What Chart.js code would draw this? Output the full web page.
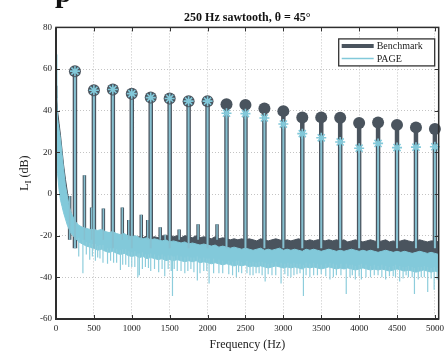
<!DOCTYPE html>
<html><head><meta charset="utf-8">
<script src="https://cdn.jsdelivr.net/npm/chart.js@4.4.1/dist/chart.umd.min.js"></script>
<style>html,body{margin:0;padding:0;background:#fff;}</style>
</head><body>
<canvas id="c" width="448" height="352"></canvas>
<script>
// ---------- data ----------
const chartTitle = '250 Hz sawtooth, θ = 45°';
const seriesNames = ['Benchmark', 'PAGE'];
const xTickLabels = [0,500,1000,1500,2000,2500,3000,3500,4000,4500,5000];
const yTickLabels = [-60,-40,-20,0,20,40,60,80];

const harmonicFreq = [250,500,750,1000,1250,1500,1750,2000,2250,2500,2750,3000,3250,3500,3750,4000,4250,4500,4750,5000];
const benchmarkLevel = [59,49.8,50.2,48.2,46.3,45.9,44.6,44.6,43.1,42.8,41.1,39.8,36.7,36.8,36.6,34.1,34.3,33.2,32,31.2];
const pageLevel = [59,49.8,50.2,48.2,46.3,45.9,44.6,44.6,38.8,38.6,36.5,33.6,29,27,25,22,24.3,22.3,22.5,22.7];

const spurFreq = [180,375,470,625,875,960,1125,1210,1375,1440,1625,1875,2125];
const spurLevel = [-1,9,-6.5,-7,-6.5,-12.5,-10,-12.5,-16,-19.5,-17,-14.5,-14.5];

const noiseFreq = [0,10,20,40,60,80,100,125,150,175,200,
 250,300,350,400,450,500,550,600,650,700,
 750,800,850,900,950,1000,1050,1100,1150,1200,
 1250,1300,1350,1400,1450,1500,1550,1600,1650,1700,
 1750,1800,1850,1900,1950,2000,2050,2100,2150,2200,
 2250,2300,2350,2400,2450,2500,2550,2600,2650,2700,
 2750,2800,2850,2900,2950,3000,3050,3100,3150,3200,
 3250,3300,3350,3400,3450,3500,3550,3600,3650,3700,
 3750,3800,3850,3900,3950,4000,4050,4100,4150,4200,
 4250,4300,4350,4400,4450,4500,4550,4600,4650,4700,
 4750,4800,4850,4900,4950,5000,5050];
const benchmarkNoiseTop = [52,46,40,34,28,21,14,7,1,-5,-10,
 -16,-18,-19,-19.5,-19,-20,-19.5,-20,-20.5,-20,
 -20.5,-20,-21,-20.5,-21,-20.5,-21,-20.5,-21,-20,
 -21,-20.5,-21,-20,-20.5,-19.5,-20.5,-20,-21,-20,
 -20.5,-21,-20,-21,-20.5,-21,-21.5,-20.5,-21.5,-21,
 -21.5,-22,-21.5,-22,-21.5,-22,-21.5,-22,-22.5,-21.5,
 -22,-22.5,-22,-21.5,-22,-22.5,-22,-22.5,-22,-21.5,
 -22,-22.5,-22,-22.5,-22,-22,-22.5,-22,-22.5,-22,
 -22.5,-22,-23,-22.5,-22,-22.5,-23,-22.5,-22,-22.5,
 -23,-22.5,-22,-23,-22.5,-23,-22.5,-22,-22.5,-23,
 -22.5,-22,-22.5,-23,-22.5,-22.5,-23];
const benchmarkNoiseBottom = [48,42,36,30,24,17,10,3,-3,-9,-14,
 -20,-22,-23,-24,-23.5,-24,-24.5,-24,-24.5,-25,
 -24.5,-25,-24.5,-25,-25.5,-25,-25.5,-25,-25.5,-26,
 -25.5,-26,-25.5,-26,-26.5,-26,-25.5,-26,-26.5,-26,
 -26.5,-26,-26.5,-27,-26.5,-27,-26.5,-27,-26.5,-27,
 -27,-27.5,-27,-27.5,-27,-27.5,-27,-27.5,-28,-27.5,
 -28,-27.5,-28,-28.5,-28,-27.5,-28,-28.5,-28,-28,
 -28.5,-28,-28.5,-28,-28.5,-28,-28,-28.5,-28,-28.5,
 -28,-28.5,-28,-28.5,-29,-28.5,-28,-28.5,-29,-28.5,
 -28.5,-29,-28.5,-29,-28.5,-29,-28.5,-29,-29,-28.5,
 -29,-28.5,-29,-29,-29.5,-29,-29.5];
const pageNoiseTop = [67,45,36,31,26,19,12,4,-1,-6,-9,
 -13,-15,-16,-16.5,-17,-17,-17.5,-17,-18,-18.5,
 -18,-19,-19.5,-19,-20,-20.5,-20,-21,-21.5,-21,
 -22,-21.5,-22,-22.5,-22,-23,-22.5,-23,-23.5,-23,
 -24,-23.5,-24,-24.5,-24,-24.5,-25,-24.5,-25.5,-25,
 -25.5,-26,-25.5,-26,-26.5,-26,-26.5,-27,-26.5,-26,
 -27,-26.5,-27,-26.5,-26,-27,-26.5,-27,-26.5,-27,
 -27.5,-26.5,-27,-26.5,-27,-27.5,-27,-26.5,-27,-27.5,
 -27,-27.5,-27,-26.5,-27,-27.5,-27,-27.5,-27,-27.5,
 -28,-27.5,-27,-27.5,-28,-27.5,-28,-27.5,-28,-28.5,
 -28,-27.5,-28,-28.5,-28,-28.5,-29];
const pageNoiseBottom = [15,16,10,2,-3,-6,-9,-12,-15,-17,-19,
 -21,-23,-24,-25,-25.5,-26,-27,-26.5,-27.5,-28,
 -27.5,-28.5,-29,-28.5,-29.5,-30,-29.5,-30.5,-30,-31,
 -30.5,-31,-31.5,-31,-32,-31.5,-32,-31.5,-32,-32.5,
 -32,-32.5,-32,-33,-32.5,-33,-33.5,-33,-33.5,-34,
 -33.5,-34,-34.5,-34,-34.5,-34,-35,-34.5,-35,-34.5,
 -35,-35.5,-35,-34.5,-35,-35.5,-35,-35.5,-35,-35.5,
 -36,-35,-35.5,-35,-35.5,-36,-35.5,-35,-35.5,-36,
 -35.5,-36,-35.5,-36,-36.5,-36,-35.5,-36,-36.5,-36,
 -36.5,-36,-36.5,-37,-36.5,-36,-36.5,-37,-36.5,-37,
 -37.5,-37,-36.5,-37,-37.5,-37,-37.5];
const pageDipFreq = [300,355,400,445,480,520,550,580,620,680,720,760,800,850,880,920,960,1000,1040,1080,1100,1140,1180,1220,1250,1300,1355,1400,1435,1480,1520,1537,1560,1600,1650,1700,1740,1780,1820,1865,1900,1950,1990,2020,2080,2150,2200,2280,2330,2380,2410,2450,2520,2560,2600,2640,2680,2720,2760,2800,2850,2900,2970,3020,3060,3100,3140,3180,3220,3265,3300,3350,3400,3450,3500,3560,3615,3660,3700,3760,3830,3880,3910,3950,4000,4030,4090,4150,4200,4250,4300,4350,4400,4450,4480,4535,4580,4620,4650,4700,4730,4780,4820,4860,4905,4950,4990,5030];
const pageDipLevel = [-30,-38,-29,-31.5,-30,-32,-30.5,-31,-33,-33.5,-32,-33,-33,-36.5,-34,-34,-35,-35,-35,-40,-39,-36,-35,-35.5,-37,-36,-37.5,-36,-39.5,-36,-37,-49,-36,-37,-37,-38,-37,-36,-37.5,-41.5,-38,-37,-37,-43,-38,-38,-38,-38.5,-39,-40,-37.5,-38,-38,-39,-39,-38,-38,-39,-42,-38.5,-39,-39,-43,-38.5,-39.5,-40,-39,-38.5,-38,-49,-39,-40,-39,-39,-38.5,-39.5,-41,-40,-39,-39,-48,-40,-39,-41,-39.5,-41,-40,-40,-39,-39,-40,-41,-39.5,-39.5,-40,-42,-40.5,-39,-40,-40,-48,-41,-40,-40,-47,-40.5,-46,-41];

// ---------- helpers ----------
const DARK = '#4a545e', LIGHT = '#82c9da';
const FONT = "'Liberation Serif','Times New Roman',serif";
const pts = (xs, ys) => xs.map((x, i) => ({x, y: ys[i]}));
const stems = (xs, ys, base) => xs.flatMap((x, i) => [{x, y: base}, {x, y: ys[i]}, {x, y: null}]);
// dips start inside the light band, just above its lower edge
const nearestBottom = f => {
  let k = 0;
  noiseFreq.forEach((g, i) => { if (Math.abs(g - f) < Math.abs(noiseFreq[k] - f)) k = i; });
  return pageNoiseBottom[k] + 2;
};
const dipSegments = pageDipFreq.flatMap((x, i) => [{x, y: nearestBottom(x)}, {x, y: pageDipLevel[i]}, {x, y: null}]);

const framePlugin = {
  id: 'frame',
  afterDraw(chart) {
    const ctx = chart.ctx, a = chart.chartArea;
    const xs = chart.scales.x, ys = chart.scales.y;
    ctx.save();
    ctx.strokeStyle = '#333'; ctx.lineWidth = 1;
    ctx.beginPath();
    xTickLabels.forEach(v => {
      const p = Math.round(xs.getPixelForValue(v)) + 0.5;
      ctx.moveTo(p, a.bottom); ctx.lineTo(p, a.bottom - 4);
      ctx.moveTo(p, a.top); ctx.lineTo(p, a.top + 4);
    });
    yTickLabels.forEach(v => {
      const p = Math.round(ys.getPixelForValue(v)) + 0.5;
      ctx.moveTo(a.left, p); ctx.lineTo(a.left + 4, p);
      ctx.moveTo(a.right, p); ctx.lineTo(a.right - 4, p);
    });
    ctx.stroke();
    ctx.strokeStyle = '#2e2e2e'; ctx.lineWidth = 1.5;
    ctx.strokeRect(a.left, a.top, a.right - a.left, a.bottom - a.top);
    ctx.lineWidth = 2;
    ctx.beginPath(); ctx.moveTo(a.left, a.top); ctx.lineTo(a.left, a.bottom); ctx.lineTo(a.right, a.bottom); ctx.stroke();

    // legend
    const lw = 96, lh = 27, lx = a.right - lw - 4, ly = a.top + 11.5;
    ctx.fillStyle = '#fff'; ctx.fillRect(lx, ly, lw, lh);
    ctx.strokeStyle = '#333'; ctx.lineWidth = 1.3; ctx.strokeRect(lx, ly, lw, lh);
    ctx.font = '10px ' + FONT; ctx.fillStyle = '#222'; ctx.textBaseline = 'middle'; ctx.textAlign = 'left';
    ctx.strokeStyle = DARK; ctx.lineWidth = 4;
    ctx.beginPath(); ctx.moveTo(lx + 3, ly + 7); ctx.lineTo(lx + 35, ly + 7); ctx.stroke();
    ctx.fillText(seriesNames[0], lx + 38, ly + 7.5);
    ctx.strokeStyle = LIGHT; ctx.lineWidth = 1.5;
    ctx.beginPath(); ctx.moveTo(lx + 3, ly + 19.5); ctx.lineTo(lx + 35, ly + 19.5); ctx.stroke();
    ctx.fillText(seriesNames[1], lx + 38, ly + 20);

    // y-axis title with subscript
    ctx.save();
    ctx.translate(24, (a.top + a.bottom) / 2);
    ctx.rotate(-Math.PI / 2);
    ctx.fillStyle = '#222'; ctx.textBaseline = 'alphabetic'; ctx.textAlign = 'left';
    const f1 = '12px ' + FONT, f2 = '9px ' + FONT;
    ctx.font = f1; const wL = ctx.measureText('L').width; const wR = ctx.measureText(' (dB)').width;
    ctx.font = f2; const wI = ctx.measureText('I').width;
    const x0 = -(wL + wI + wR) / 2;
    ctx.font = f1; ctx.fillText('L', x0, 4);
    ctx.font = f2; ctx.fillText('I', x0 + wL, 7);
    ctx.font = f1; ctx.fillText(' (dB)', x0 + wL + wI, 4);
    ctx.restore();

    // clipped letter at the very top-left of the source image
    ctx.font = 'bold 30px ' + FONT; ctx.fillStyle = '#111'; ctx.textBaseline = 'alphabetic';
    ctx.fillText('p', 55, 2);
    ctx.restore();
  }
};

const ds = [
  {label: 'bnBot', data: pts(noiseFreq, benchmarkNoiseBottom), borderWidth: 0, pointRadius: 0, borderColor: DARK, order: 100},
  {label: 'bnTop', data: pts(noiseFreq, benchmarkNoiseTop), fill: '-1', backgroundColor: DARK, borderColor: DARK, borderWidth: 1, pointRadius: 0, order: 99},
  {label: 'bSpur', data: stems(spurFreq, spurLevel, -22), borderColor: DARK, borderWidth: 3.5, pointRadius: 0, order: 90, borderCapStyle: 'butt'},
  {label: 'bStem', data: stems(harmonicFreq, benchmarkLevel, -26), borderColor: DARK, borderWidth: 4.5, pointRadius: 0, order: 85, borderCapStyle: 'butt'},
  {label: 'pnBot', data: pts(noiseFreq, pageNoiseBottom), borderWidth: 1, borderColor: LIGHT, pointRadius: 0, order: 80},
  {label: 'pnTop', data: pts(noiseFreq, pageNoiseTop), fill: '-1', backgroundColor: LIGHT, borderColor: LIGHT, borderWidth: 1, pointRadius: 0, order: 79},
  {label: 'pDip', data: dipSegments, borderColor: '#8dcddc', borderWidth: 1.2, pointRadius: 0, order: 75},
  {label: 'pSpur', data: stems(spurFreq, spurLevel, -22), borderColor: '#86bfcf', borderWidth: 1.5, pointRadius: 0, order: 74, borderCapStyle: 'butt'},
  {label: 'pStem', data: stems(harmonicFreq, pageLevel, -26), borderColor: '#86c0d0', borderWidth: 2, pointRadius: 0, order: 70, borderCapStyle: 'butt'},
  {label: seriesNames[0], data: pts(harmonicFreq, benchmarkLevel), showLine: false, pointStyle: 'circle', pointRadius: 6, pointBackgroundColor: DARK, pointBorderColor: DARK, pointBorderWidth: 0, order: 60, clip: false},
  {label: seriesNames[1], data: pts(harmonicFreq, pageLevel), showLine: false, pointStyle: 'star', pointRadius: 5, pointBorderColor: LIGHT, pointBorderWidth: 1.6, order: 50, clip: false}
];

new Chart(document.getElementById('c'), {
  type: 'line',
  data: {datasets: ds},
  plugins: [framePlugin],
  options: {
    responsive: false, animation: false, devicePixelRatio: 1,
    spanGaps: false,
    elements: {line: {tension: 0}},
    layout: {padding: {left: 0, right: 7, top: 0, bottom: 0}},
    plugins: {
      legend: {display: false}, tooltip: {enabled: false},
      title: {display: true, text: chartTitle, fullSize: false, color: '#111',
        font: {family: FONT, size: 12, weight: 'bold'}, padding: {top: 11, bottom: 2}}
    },
    scales: {
      x: {type: 'linear', min: 0, max: 5050,
        afterBuildTicks: s => { s.ticks = xTickLabels.map(v => ({value: v})); },
        afterFit: s => { s.height = 33; },
        ticks: {color: '#222', font: {family: FONT, size: 9}, padding: 4, maxRotation: 0, autoSkip: false, callback: v => String(v)},
        grid: {color: '#c4c4c4', lineWidth: 1, drawTicks: false},
        border: {display: false, dash: [1, 2]},
        title: {display: true, text: 'Frequency (Hz)', color: '#222', font: {family: FONT, size: 12}, padding: {top: 0, bottom: 0}}
      },
      y: {type: 'linear', min: -60, max: 80,
        afterBuildTicks: s => { s.ticks = yTickLabels.map(v => ({value: v})); },
        afterFit: s => { s.width = 56; },
        ticks: {color: '#222', font: {family: FONT, size: 9}, padding: 4, callback: v => String(v)},
        grid: {color: '#c4c4c4', lineWidth: 1, drawTicks: false},
        border: {display: false, dash: [1, 2]}
      }
    }
  }
});
</script>
</body></html>
